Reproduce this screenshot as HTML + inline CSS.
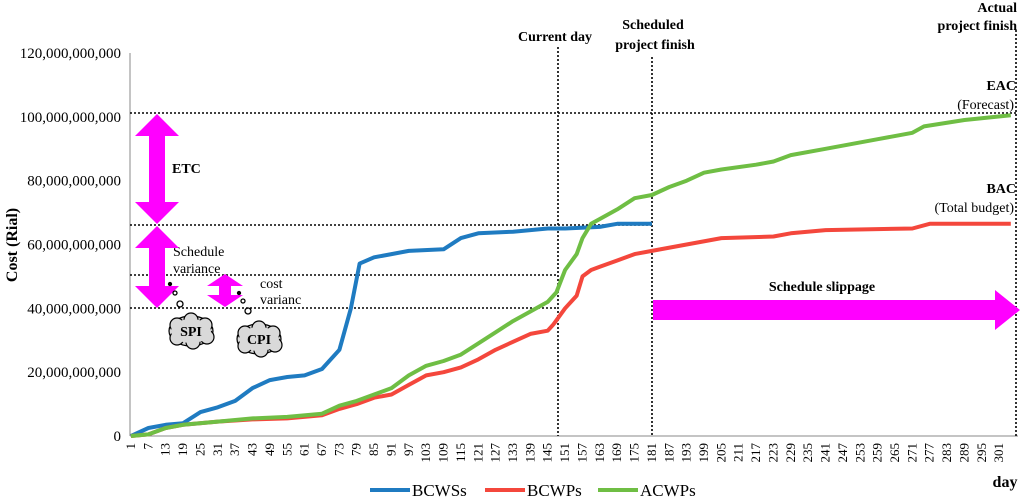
<!DOCTYPE html>
<html><head><meta charset="utf-8"><style>
body{margin:0;background:#fff;}
svg{display:block;font-family:"Liberation Serif",serif;}
</style></head><body>
<svg id="chart" width="1024" height="501" viewBox="0 0 1024 501">
<g id="grid"></g>
<g id="marks"></g>
<g id="annot"></g>
</svg>
<script>
const NS="http://www.w3.org/2000/svg";
const yTicks=[0,20,40,60,80,100,120];
const yTickLabels=["0","20,000,000,000","40,000,000,000","60,000,000,000","80,000,000,000","100,000,000,000","120,000,000,000"];
const bcwsDays=[1,7,13,19,25,31,37,43,49,55,61,67,73,77,80,85,91,97,109,115,121,133,145,151,163,169,181];
const bcwsVals=[0,2.5,3.5,4,7.5,9,11,15,17.5,18.5,19,21,27,40,54,56,57,58,58.5,62,63.5,64,65,65,65.5,66.5,66.5];
const bcwpDays=[1,7,13,19,31,43,55,67,73,79,85,91,97,103,109,115,121,127,133,139,145,147,151,155,157,160,163,169,175,181,193,205,223,229,241,271,277,305];
const bcwpVals=[0,0.5,2.5,3.5,4.5,5.2,5.5,6.5,8.5,10,12,13,16,19,20,21.5,24,27,29.5,32,33,35,40,44,50,52,53,55,57,58,60,62,62.5,63.5,64.5,65,66.5,66.5];
const acwpDays=[1,7,13,19,31,43,55,67,73,79,85,91,97,103,109,115,121,127,133,139,145,148,151,155,157,160,163,169,175,181,187,193,199,205,217,223,229,241,259,271,275,289,305];
const acwpVals=[0,0.5,2.5,3.5,4.5,5.5,6,7,9.5,11,13,15,19,22,23.5,25.5,29,32.5,36,39,42,45,52,57,62,66.5,68,71,74.5,75.5,78,80,82.5,83.5,85,86,88,90,93,95,97,99,100.5];
const xLabels=[];for(let d=1;d<=301;d+=6)xLabels.push(d);

const X=d=>131+(d-1)*2.894;
const Y=v=>436-v*(383/120);
function el(tag,attrs,parent,text){const e=document.createElementNS(NS,tag);for(const k in attrs)e.setAttribute(k,attrs[k]);if(text!==undefined)e.textContent=text;parent.appendChild(e);return e;}
const grid=document.getElementById('grid'),marks=document.getElementById('marks'),ann=document.getElementById('annot');

let ax=el('line',{x1:130,y1:53,x2:130,y2:436,stroke:'#888','stroke-width':1},grid);


let xax=el('line',{x1:130,y1:436,x2:1018,y2:436,stroke:'#888','stroke-width':1},grid);


yTicks.forEach((v,i)=>{
 const t=el('text',{x:121,y:Y(v)+5,'text-anchor':'end','font-size':15},grid,yTickLabels[i]);
 
 
});
xLabels.forEach(d=>{
 const t=el('text',{x:X(d)+4,y:443,'text-anchor':'end','font-size':13,transform:`rotate(-90 ${X(d)+4} 443)`},grid,String(d));
 
 
});
let yt=el('text',{x:17,y:245,'text-anchor':'middle','font-size':16,'font-weight':'bold',transform:'rotate(-90 17 245)'},grid,'Cost (Rial)');


let xt=el('text',{x:1005,y:487,'text-anchor':'middle','font-size':16,'font-weight':'bold'},grid,'day');



const dot={stroke:'#000','stroke-width':1.6,'stroke-dasharray':'2,2',fill:'none'};
function ref(x1,y1,x2,y2,name){const l=el('line',Object.assign({x1,y1,x2,y2},dot),grid);}
ref(130,113,1016,113,'eac-line');
ref(130,225,652,225,'bac-line');
ref(130,275,558,275,'bcwp-current-line');
ref(130,308,558,308,'acwp-current-line');
ref(558,47,558,436,'current-day-line');
ref(652,57,652,436,'scheduled-finish-line');
ref(1016,30,1016,436,'actual-finish-line');

function series(days,vals,color,name){
 const d=days.map((dd,i)=>(i?'L':'M')+X(dd).toFixed(1)+','+Y(vals[i]).toFixed(1)).join(' ');
 const p=el('path',{d,stroke:color,'stroke-width':4,fill:'none','stroke-linejoin':'round'},marks);
 
 
}
series(bcwsDays,bcwsVals,'#1f7bc1','bcws-line');
series(bcwpDays,bcwpVals,'#f4473c','bcwp-line');
series(acwpDays,acwpVals,'#6fbe44','acwp-line');

[['BCWSs','#1f7bc1',370],['BCWPs','#f4473c',485],['ACWPs','#6fbe44',598]].forEach(([n,c,x])=>{
 const l=el('line',{x1:x,y1:490,x2:x+40,y2:490,stroke:c,'stroke-width':4},grid);
 
 
 const t=el('text',{x:x+42,y:496,'font-size':17},grid,n);
 
 
});

function label(x,y,txt,opts,name){const t=el('text',Object.assign({x,y,'font-size':14},opts||{}),ann,txt);}
const B={'font-weight':'bold','font-size':14,'text-anchor':'middle'};
label(555,41,'Current day',B,'current-day-label');
label(653,29,'Scheduled',B,'scheduled-label');
label(655,49,'project finish',B,'scheduled-label-2');
label(1017,12,'Actual',Object.assign({},B,{'text-anchor':'end'}),'actual-label');
label(1017,30,'project finish',Object.assign({},B,{'text-anchor':'end'}),'actual-label-2');
label(1016,90,'EAC',Object.assign({},B,{'text-anchor':'end'}),'eac-label');
label(1014,109,'(Forecast)',{'text-anchor':'end'},'eac-sub-label');
label(1016,193,'BAC',Object.assign({},B,{'text-anchor':'end'}),'bac-label');
label(1014,212,'(Total budget)',{'text-anchor':'end'},'bac-sub-label');
label(822,291,'Schedule slippage',B,'schedule-slippage-label');
label(172,173,'ETC',{'font-weight':'bold'},'etc-label');
label(173,256,'Schedule',{},'schedule-variance-label');
label(173,273,'variance',{},'schedule-variance-label-2');
label(260,288,'cost',{},'cost-variance-label');
label(260,304,'varianc',{},'cost-variance-label-2');

function darrow(cx,y1,y2,bw,hw,hl,name){
 const d=`M${cx},${y1} L${cx+hw/2},${y1+hl} L${cx+bw/2},${y1+hl} L${cx+bw/2},${y2-hl} L${cx+hw/2},${y2-hl} L${cx},${y2} L${cx-hw/2},${y2-hl} L${cx-bw/2},${y2-hl} L${cx-bw/2},${y1+hl} L${cx-hw/2},${y1+hl} Z`;
 const p=el('path',{d,fill:'#ff00ff'},ann);
}
darrow(157,114,224,16,44,22,'etc-arrow');
darrow(157,226,308,16,44,22,'schedule-variance-arrow');
darrow(225,274,307,12,36,12,'cost-variance-arrow');
let sa=el('path',{d:'M653,300 L995,300 L995,290 L1020,310 L995,330 L995,320 L653,320 Z',fill:'#ff00ff'},ann);



function cloud(cx,cy,txt,name){
 const g=el('g',{},ann);
 el('ellipse',{cx,cy,rx:22,ry:15,fill:'#d9d9d9',stroke:'#000','stroke-width':1.2},g);
 [[-14,-6],[0,-11],[14,-6],[16,6],[2,11],[-14,7]].forEach(([dx,dy])=>el('circle',{cx:cx+dx,cy:cy+dy,r:7,fill:'#d9d9d9',stroke:'#000','stroke-width':1.2},g));
 el('ellipse',{cx,cy,rx:20,ry:12,fill:'#d9d9d9'},g);
 el('text',{x:cx,y:cy+5,'text-anchor':'middle','font-size':14,'font-weight':'bold'},g,txt);
}
cloud(191,331,'SPI','spi-cloud');
cloud(259,339,'CPI','cpi-cloud');
[[170,284,1.5,'#000'],[175,293,2,'none'],[180,304,3,'none'],[239,293,1.5,'#000'],[243,301,2,'none'],[248,311,3,'none']].forEach(([x,y,r,f])=>{
 const c=el('circle',{cx:x,cy:y,r,fill:f,stroke:'#000','stroke-width':1.3},ann);
 
 
});
</script>
</body></html>
